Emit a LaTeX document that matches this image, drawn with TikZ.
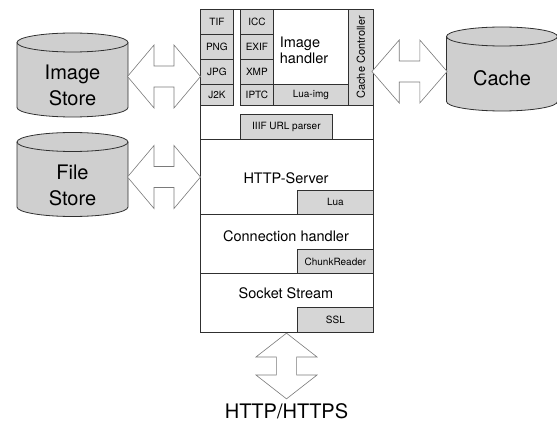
\documentclass[tikz,border=0pt]{standalone}
\usepackage{fontspec}
\setmainfont{TeX Gyre Heros}
\definecolor{cellgray}{HTML}{D6D6D6}
\definecolor{storegray}{HTML}{CFCFCF}
\definecolor{framecol}{HTML}{303030}
\definecolor{arrowcol}{HTML}{7A7A7A}
\tikzstyle{every picture}=[x=1pt, y=-1pt]
\tikzstyle{layer}=[draw=framecol, line width=0.8pt, inner sep=0pt, anchor=north west]
\tikzstyle{cell}=[layer, fill=cellgray, font=\fontsize{10}{12}\selectfont]
\tikzstyle{bigtext}=[inner sep=0pt, font=\fontsize{14.5}{16}\selectfont]
\tikzstyle{storeline}=[draw=framecol, line width=0.8pt, fill=storegray]
\tikzstyle{storetext}=[inner sep=0pt, align=center, font=\fontsize{20}{26}\selectfont]
\tikzstyle{arrowline}=[draw=arrowcol, line width=0.6pt, fill=white, line join=miter]
\tikzset{
  dbcyl/.pic={
    \path[storeline] (-55.5,-32.5) -- (-55.5,32.5) arc[start angle=180, end angle=0, x radius=55.5, y radius=9.5]
      -- (55.5,-32.5) arc[start angle=0, end angle=-180, x radius=55.5, y radius=9.5] -- cycle;
    \draw[framecol, line width=0.8pt] (-55.5,-32.5) arc[start angle=180, end angle=0, x radius=55.5, y radius=9.5];
  },
  fatarrow/.pic={
    \path[arrowline] (-36.5,0) -- (-10,-31.5) -- (-10,-10.5) -- (10,-10.5) -- (10,-31.5) -- (36.5,0)
      -- (10,31.5) -- (10,10.5) -- (-10,10.5) -- (-10,31.5) -- cycle;
  }
}

\begin{document}
\begin{tikzpicture}
\useasboundingbox (0,0) rectangle (557,422);

% stores
\pic at (72.5,75) {dbcyl};
\pic at (72.5,174.5) {dbcyl};
\pic at (502,69) {dbcyl};
\node[storetext] (imgstore) at (72.5,85) {Image\\Store};
\node[storetext] (filestore) at (72.5,185) {File\\Store};
\node[storetext] (cache) at (502,78) {Cache};

% server layers
\path (200,9) node[layer, minimum width=173pt, minimum height=130pt] (imgbox) {}
      (200,139) node[layer, minimum width=173pt, minimum height=75pt] (httpbox) {}
      (200,214) node[layer, minimum width=173pt, minimum height=59pt] (connbox) {}
      (200,273) node[layer, minimum width=173pt, minimum height=59pt] (sockbox) {};

% image formats
\path (200,9) node[cell, minimum width=33pt, minimum height=25pt] (tif) {TIF}
      (200,34) node[cell, minimum width=33pt, minimum height=25pt] (png) {PNG}
      (200,59) node[cell, minimum width=33pt, minimum height=25pt] (jpg) {JPG}
      (200,84) node[cell, minimum width=33pt, minimum height=21pt] (j2k) {J2K};

% metadata
\path (240,9) node[cell, minimum width=33pt, minimum height=25pt] (icc) {ICC}
      (240,34) node[cell, minimum width=33pt, minimum height=25pt] (exif) {EXIF}
      (240,59) node[cell, minimum width=33pt, minimum height=25pt] (xmp) {XMP}
      (240,84) node[cell, minimum width=33pt, minimum height=21pt] (iptc) {IPTC};

\path (273,9) node[layer, minimum width=75pt, minimum height=75pt] (imghandler) {}
      (273,84) node[cell, minimum width=75pt, minimum height=21pt] (luaimg) {Lua-img}
      (348,9) node[cell, minimum width=25pt, minimum height=96pt] (cachectl) {}
      (240,114) node[cell, minimum width=92pt, minimum height=25pt] (iiif) {IIIF URL parser};

\node[rotate=90, inner sep=0pt, font=\fontsize{11}{12}\selectfont] (cachectltext) at (cachectl.center) {Cache Controller};
\node[bigtext, align=left] (imghandlertext) at (304,50) {Image\\handler};

% http, connection, socket
\path (297,190) node[cell, minimum width=76pt, minimum height=24pt] (lua) {Lua}
      (297,249) node[cell, minimum width=76pt, minimum height=24pt] (chunk) {ChunkReader}
      (297,307) node[cell, minimum width=76pt, minimum height=25pt] (ssl) {SSL};

\node[bigtext] (httptext) at (286,178) {HTTP-Server};
\node[bigtext] (conntext) at (286,236) {Connection handler};
\node[bigtext] (socktext) at (286,293) {Socket Stream};

% big arrows
\pic at (164,76.5) {fatarrow};
\pic at (164,177) {fatarrow};
\pic[xscale=1.03] at (409.5,71.5) {fatarrow};
\pic[rotate=90, xscale=0.9, yscale=0.97] at (286.5,366) {fatarrow};

\node[inner sep=0pt, font=\fontsize{20}{24}\selectfont] (net) at (286.5,411) {HTTP/HTTPS};

\end{tikzpicture}
\end{document}
